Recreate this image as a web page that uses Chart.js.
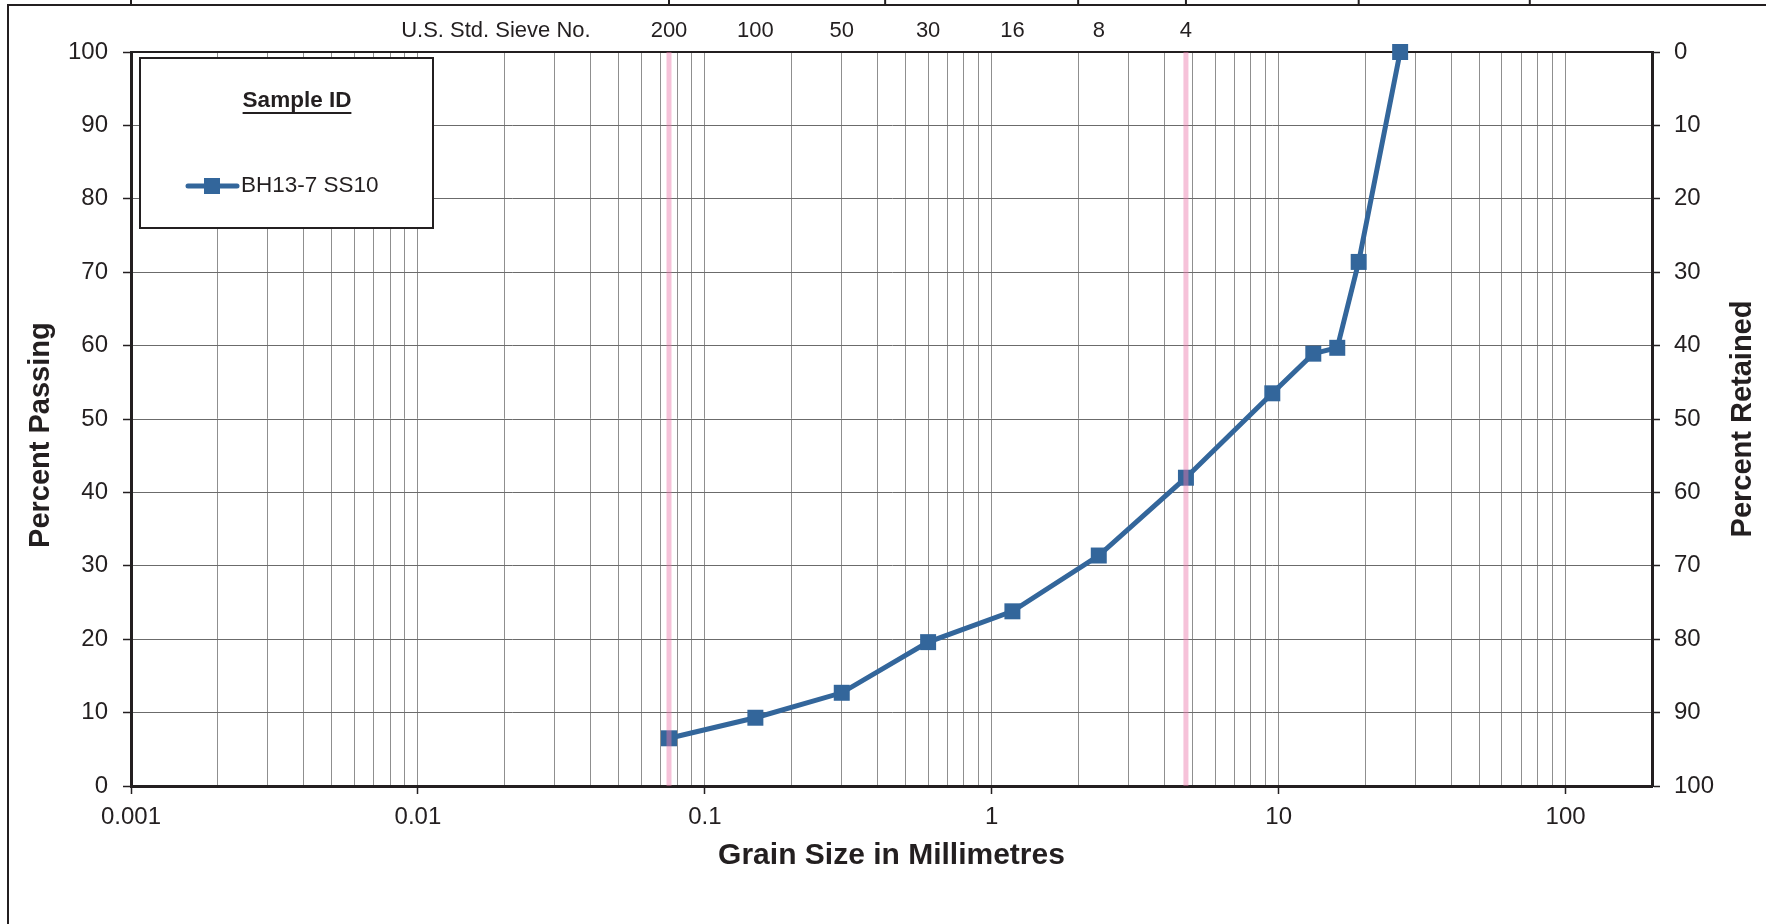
<!DOCTYPE html>
<html>
<head>
<meta charset="utf-8">
<script src="https://cdn.jsdelivr.net/npm/chart.js@4.4.0/dist/chart.umd.min.js"></script>
<style>
html, body { margin: 0; padding: 0; background: #fff; }
#wrap { width: 1766px; height: 924px; }
</style>
</head>
<body>
<div id="wrap"><canvas id="gradation-chart" width="1766" height="924"></canvas></div>
<script>
// sample data
const grainSizes = [0.075, 0.15, 0.3, 0.6, 1.18, 2.36, 4.75, 9.5, 13.2, 16, 19, 26.5]
const percentPassing = [6.5, 9.3, 12.7, 19.6, 23.8, 31.4, 42.0, 53.5, 58.9, 59.7, 71.4, 100]
const sampleLabel = 'BH13-7 SS10'

// top axis: US standard sieve numbers
const sieveSizes = [0.0187, 0.075, 0.15, 0.3, 0.6, 1.18, 2.36, 4.75]
const sieveLabels = ['U.S. Std. Sieve No.', '200', '100', '50', '30', '16', '8', '4']
const pinkSieves = [0.075, 4.75]

// bottom axis
const decadeTicks = [0.001, 0.01, 0.1, 1, 10, 100]
const decadeLabels = ['0.001', '0.01', '0.1', '1', '10', '100']
const xMin = 0.001
const xMax = 200

// boundaries of the classification strip cut off at the top
const classBounds = [0.001, 0.075, 0.425, 2, 4.75, 19, 75]

const textColor = '#231f20'
const lineColor = '#33669b'
const fontFamily = '"Liberation Sans", Arial, sans-serif'

Chart.defaults.font.family = fontFamily
Chart.defaults.color = textColor

function decadeIndex(v) {
  return decadeTicks.findIndex(d => Math.abs(v / d - 1) < 1e-6)
}

function gridValues() {
  const out = []
  decadeTicks.forEach(d => {
    for (let m = 1; m <= 9; m++) {
      const v = parseFloat((d * m).toPrecision(3))
      if (v <= xMax) out.push(v)
    }
  })
  out.push(xMax)
  return out
}

const framePlugin = {
  id: 'frame',
  afterDatasetsDraw(chart) {
    const {ctx, chartArea, scales} = chart
    ctx.save()
    ctx.strokeStyle = 'rgba(236,120,170,0.45)'
    ctx.lineWidth = 5
    pinkSieves.forEach(v => {
      const x = scales.x.getPixelForValue(v)
      ctx.beginPath()
      ctx.moveTo(x, chartArea.top)
      ctx.lineTo(x, chartArea.bottom)
      ctx.stroke()
    })
    ctx.restore()
  },
  afterDraw(chart) {
    const {ctx, chartArea, scales} = chart
    ctx.save()
    // outer frame + strip dividers
    ctx.strokeStyle = textColor
    ctx.lineWidth = 2
    ctx.beginPath()
    ctx.moveTo(8, chart.height)
    ctx.lineTo(8, 5)
    ctx.lineTo(chart.width, 5)
    ctx.stroke()
    classBounds.forEach(v => {
      const x = scales.x.getPixelForValue(v)
      ctx.beginPath()
      ctx.moveTo(x, 0)
      ctx.lineTo(x, 5)
      ctx.stroke()
    })

    // right axis title
    ctx.fillStyle = textColor
    ctx.font = 'bold 29px ' + fontFamily
    ctx.textAlign = 'center'
    ctx.textBaseline = 'middle'
    ctx.translate(scales.y2.right - 23, (chartArea.top + chartArea.bottom) / 2)
    ctx.rotate(-Math.PI / 2)
    ctx.fillText('Percent Retained', 0, 0)
    ctx.restore()

    // legend box
    ctx.save()
    const box = {x: chartArea.left + 9, y: chartArea.top + 6, w: 293, h: 170}
    ctx.fillStyle = '#fff'
    ctx.fillRect(box.x, box.y, box.w, box.h)
    ctx.strokeStyle = textColor
    ctx.lineWidth = 2
    ctx.strokeRect(box.x, box.y, box.w, box.h)

    ctx.fillStyle = textColor
    ctx.font = 'bold 22.5px ' + fontFamily
    ctx.textAlign = 'center'
    ctx.textBaseline = 'middle'
    const titleX = box.x + 157
    ctx.fillText('Sample ID', titleX, box.y + 43)
    const tw = ctx.measureText('Sample ID').width
    ctx.beginPath()
    ctx.moveTo(titleX - tw / 2, box.y + 55)
    ctx.lineTo(titleX + tw / 2, box.y + 55)
    ctx.stroke()

    const ey = box.y + 128
    ctx.strokeStyle = lineColor
    ctx.lineWidth = 5
    ctx.lineCap = 'round'
    ctx.beginPath()
    ctx.moveTo(box.x + 48, ey)
    ctx.lineTo(box.x + 97, ey)
    ctx.stroke()
    ctx.fillStyle = lineColor
    ctx.fillRect(box.x + 72 - 8, ey - 8, 16, 16)
    ctx.fillStyle = textColor
    ctx.font = '22.5px ' + fontFamily
    ctx.textAlign = 'left'
    ctx.fillText(chart.data.datasets[0].label, box.x + 101, ey)
    ctx.restore()
  }
}

const context = document.getElementById('gradation-chart').getContext('2d')
const chart = new Chart(context, {
  type: 'line',
  data: {
    datasets: [{
      label: sampleLabel,
      data: grainSizes.map((g, i) => ({x: g, y: percentPassing[i]})),
      borderColor: lineColor,
      backgroundColor: lineColor,
      borderWidth: 5,
      pointStyle: 'rect',
      pointRadius: 11.3,
      pointBorderWidth: 0,
      tension: 0,
      clip: false,
      xAxisID: 'x',
      yAxisID: 'y'
    }]
  },
  options: {
    responsive: false,
    animation: false,
    devicePixelRatio: 1,
    layout: {padding: 0},
    plugins: {legend: {display: false}, tooltip: {enabled: false}},
    scales: {
      x: {
        type: 'logarithmic',
        position: 'bottom',
        min: xMin,
        max: xMax,
        afterBuildTicks: s => { s.ticks = gridValues().map(v => ({value: v})) },
        afterFit: s => { s.height = 138 },
        ticks: {
          autoSkip: false,
          maxRotation: 0,
          padding: 9,
          font: {size: 24},
          callback: v => {
            const i = decadeIndex(v)
            return i < 0 ? '' : decadeLabels[i]
          }
        },
        grid: {
          color: '#8f8f8f',
          lineWidth: 1,
          tickLength: 8,
          tickWidth: 1.5,
          tickColor: c => (c.tick && decadeIndex(c.tick.value) >= 0) ? textColor : 'rgba(0,0,0,0)'
        },
        border: {color: textColor, width: 3},
        title: {
          display: true,
          text: 'Grain Size in Millimetres',
          font: {size: 30, weight: 'bold'},
          padding: {top: 0, bottom: 50}
        }
      },
      x2: {
        type: 'logarithmic',
        position: 'top',
        min: xMin,
        max: xMax,
        afterBuildTicks: s => { s.ticks = sieveSizes.map(v => ({value: v})) },
        afterFit: s => { s.height = 52 },
        ticks: {
          autoSkip: false,
          maxRotation: 0,
          padding: 8,
          font: {size: 22},
          callback: (v, i) => sieveLabels[i]
        },
        grid: {display: false, drawTicks: false},
        border: {color: textColor, width: 2}
      },
      y: {
        type: 'linear',
        position: 'left',
        min: 0,
        max: 100,
        afterFit: s => { s.width = 131 },
        ticks: {stepSize: 10, padding: 15, font: {size: 24}},
        grid: {color: '#6b6b6b', lineWidth: 1, tickLength: 8, tickWidth: 1.5, tickColor: textColor},
        border: {color: textColor, width: 3},
        title: {
          display: true,
          text: 'Percent Passing    ',
          font: {size: 29, weight: 'bold'},
          padding: {top: 24, bottom: 0}
        }
      },
      y2: {
        type: 'linear',
        position: 'right',
        min: 0,
        max: 100,
        reverse: true,
        afterFit: s => { s.width = 114 },
        ticks: {stepSize: 10, padding: 14, font: {size: 24}},
        grid: {drawOnChartArea: false, tickLength: 8, tickWidth: 1.5, tickColor: textColor},
        border: {color: textColor, width: 3}
      }
    }
  },
  plugins: [framePlugin]
})
</script>
</body>
</html>
